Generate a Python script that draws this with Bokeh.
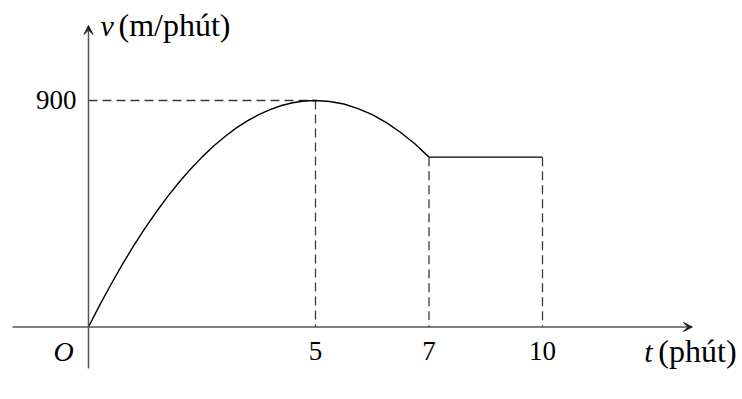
import numpy as np
from bokeh.plotting import figure
from bokeh.models import Range1d, Arrow, VeeHead
from bokeh.core.properties import value
from bokeh.embed import file_html
from bokeh.resources import INLINE

# ---- data ----
# rising/falling part of the velocity curve, t in minutes, v in m/phút
curve_t = [0, 0.25, 0.5, 0.75, 1, 1.25, 1.5, 1.75, 2, 2.25, 2.5, 2.75, 3, 3.25,
           3.5, 3.75, 4, 4.25, 4.5, 4.75, 5, 5.25, 5.5, 5.75, 6, 6.25, 6.5, 6.75, 7]
curve_v = [0, 88, 171, 250, 324, 394, 459, 520, 576, 628, 675, 718, 756, 790,
           819, 844, 864, 880, 891, 898, 900, 896, 886, 868, 844, 812, 773, 728, 675]
# constant part
flat_t = [7, 10]
flat_v = [675, 675]
# dashed guides
guide_t = [5, 7, 10]
guide_v = [900, 675, 675]
# ticks
t_ticks = [5, 7, 10]
t_labels = ["5", "7", "10"]
v_ticks = [900]
v_labels = ["900"]

# the drawing's time axis is schematic: piecewise scale of the t axis
scale_t = [0, 5, 7, 10]
scale_pos = [0, 5, 7.5, 10]


def tx(t):
    return np.interp(np.asarray(t, dtype=float), scale_t, scale_pos)


W, H = 742, 399
p = figure(width=W, height=H, output_backend="svg", toolbar_location=None,
           x_axis_type=None, y_axis_type=None,
           x_range=Range1d(-1.938, 14.405), y_range=Range1d(-288.0, 1297.3),
           min_border=0, outline_line_color=None, background_fill_color="white",
           border_fill_color="white")
p.grid.visible = False

AX = "#555555"
SERIF = "Liberation Serif"

# axes with arrows
p.add_layout(Arrow(end=VeeHead(size=9, line_color="#222222", fill_color="#222222", line_width=1),
                   x_start=-1.674, y_start=0, x_end=13.30, y_end=0,
                   line_color=AX, line_width=1.5))
p.add_layout(Arrow(end=VeeHead(size=9, line_color="#222222", fill_color="#222222", line_width=1),
                   x_start=0, y_start=-165, x_end=0, y_end=1198,
                   line_color=AX, line_width=1.5))

# dashed guides
gx = tx(guide_t)
p.segment(x0=[0], y0=[guide_v[0]], x1=[gx[0]], y1=[guide_v[0]],
          line_color="#3a3a3a", line_width=1.3, line_dash="9 5")
p.segment(x0=gx, y0=guide_v, x1=gx, y1=[0] * len(gx),
          line_color="#3a3a3a", line_width=1.3, line_dash="9 5")

# curve
p.line(tx(curve_t), curve_v, line_color="black", line_width=1.4)
p.line(tx(flat_t), flat_v, line_color="black", line_width=1.4)

# tick labels
p.text(x=tx(t_ticks), y=[0] * len(t_ticks), text=t_labels, y_offset=24,
       text_font=value(SERIF), text_font_size="27px", text_align="center",
       text_baseline="middle", text_color="black")
p.text(x=[0], y=v_ticks, text=v_labels, x_offset=-12,
       text_font=value(SERIF), text_font_size="27px", text_align="right",
       text_baseline="middle", text_color="black")
p.text(x=[0], y=[0], text=["O"], x_offset=-25, y_offset=24,
       text_font=value(SERIF), text_font_style="italic", text_font_size="28px",
       text_align="center", text_baseline="middle", text_color="black")

# axis titles
p.text(x=[0], y=[1198], text=["v"], x_offset=12, y_offset=0,
       text_font=value(SERIF), text_font_style="italic", text_font_size="30px",
       text_align="left", text_baseline="middle", text_color="black")
p.text(x=[0], y=[1198], text=["(m/phút)"], x_offset=30, y_offset=0,
       text_font=value(SERIF), text_font_size="32px",
       text_align="left", text_baseline="middle", text_color="black")
p.text(x=[13.30], y=[0], text=["t"], x_offset=-48, y_offset=24,
       text_font=value(SERIF), text_font_style="italic", text_font_size="30px",
       text_align="left", text_baseline="middle", text_color="black")
p.text(x=[13.30], y=[0], text=["(phút)"], x_offset=-34, y_offset=24,
       text_font=value(SERIF), text_font_size="32px",
       text_align="left", text_baseline="middle", text_color="black")

open("out.html", "w").write(file_html(p, INLINE))
